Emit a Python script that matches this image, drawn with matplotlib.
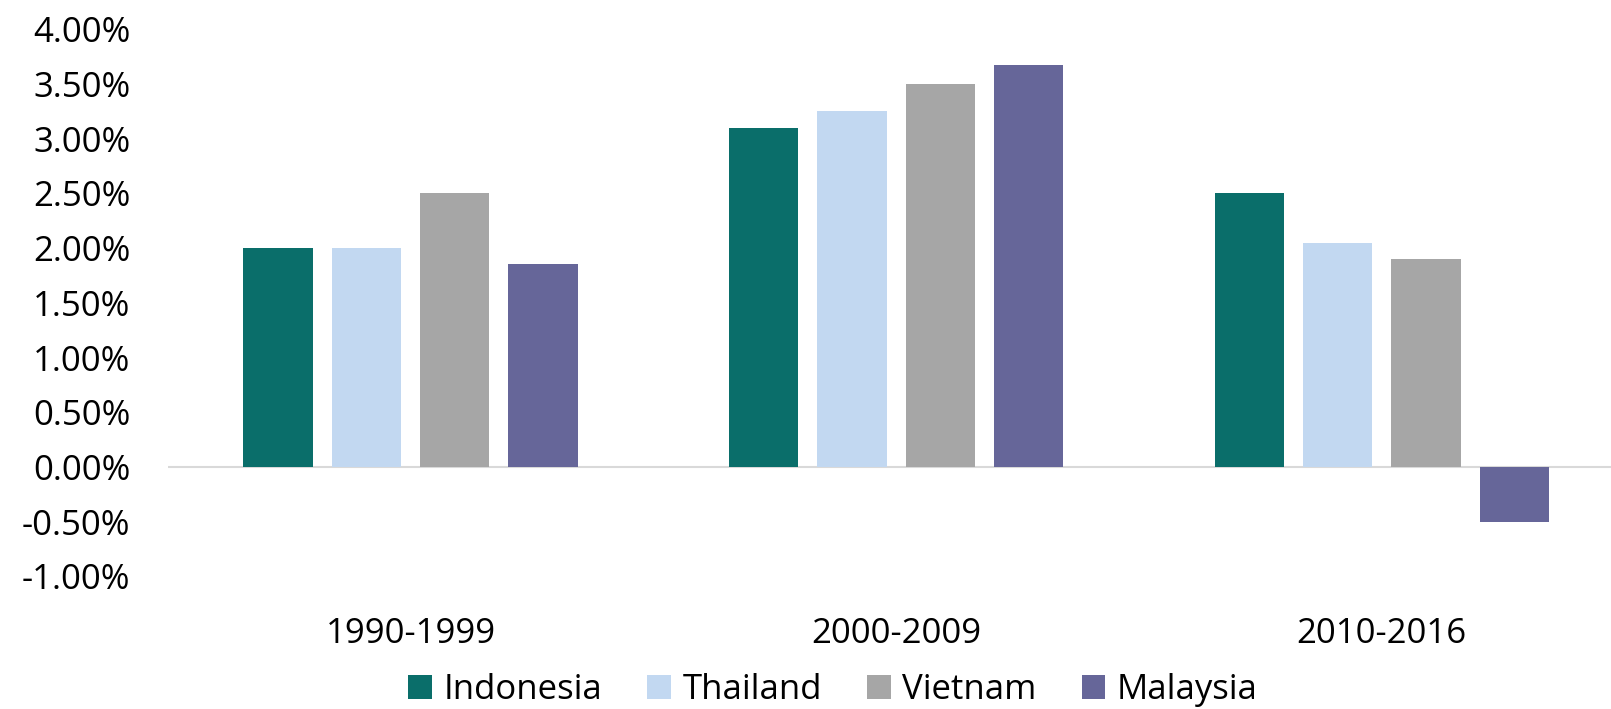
import numpy as np
import matplotlib
matplotlib.use("Agg")
import matplotlib.pyplot as plt
from matplotlib.ticker import FuncFormatter

periods = ["1990-1999", "2000-2009", "2010-2016"]
indonesia = [2.00, 3.10, 2.50]
thailand = [2.00, 3.25, 2.05]
vietnam = [2.50, 3.50, 1.90]
malaysia = [1.85, 3.67, -0.50]

countries = ["Indonesia", "Thailand", "Vietnam", "Malaysia"]
colors = ["#0A6E6A", "#C2D8F1", "#A6A6A6", "#666699"]

plt.rcParams['font.family'] = ['Open Sans', 'DejaVu Sans']

fig = plt.figure(figsize=(16.11, 7.09), dpi=100)
ax = fig.add_axes([0.1041, 0.1869, 0.9043, 0.7721])

x = np.arange(len(periods))
pitch = 0.1818
width = 0.1427
series = [indonesia, thailand, vietnam, malaysia]
for i, vals in enumerate(series):
    ax.bar(x + (i - 1.5) * pitch, vals, width, color=colors[i], label=countries[i])

ax.axhline(0, color="#D9D9D9", linewidth=1.5, zorder=0)

ax.set_xlim(-0.5, 2.5)
ax.set_ylim(-1, 4)
ax.set_yticks(np.arange(-1, 4.01, 0.5))
ax.yaxis.set_major_formatter(FuncFormatter(lambda v, p: f"{v:.2f}%"))
ax.set_xticks(x)
ax.set_xticklabels(periods)
ax.tick_params(axis="y", length=0, pad=27, labelsize=25)
ax.tick_params(axis="x", length=0, pad=29, labelsize=25)
for s in ax.spines.values():
    s.set_visible(False)

ax.legend(loc="center", bbox_to_anchor=(0.517, 0.027), bbox_transform=fig.transFigure,
          ncol=4, frameon=False, fontsize=25, handlelength=0.68, handleheight=0.68,
          handletextpad=0.33, columnspacing=1.3, borderpad=0)

fig.savefig("out.png", dpi=100)
